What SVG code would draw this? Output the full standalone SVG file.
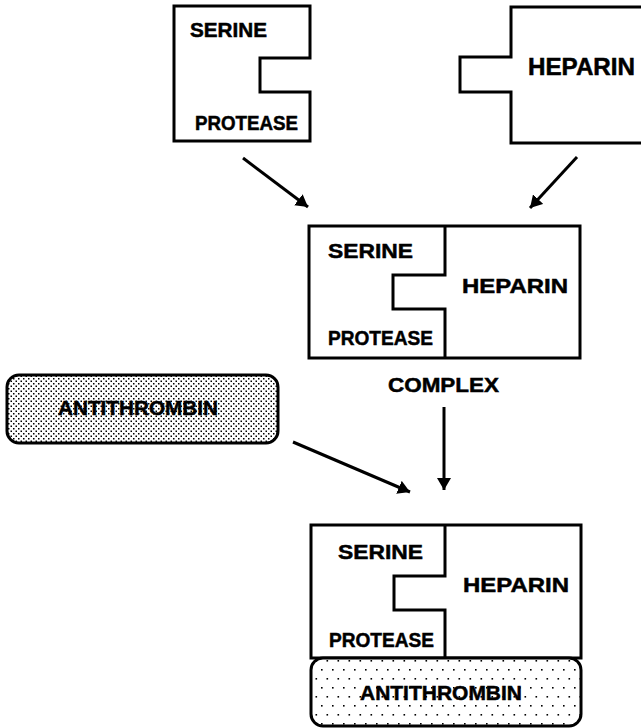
<svg xmlns="http://www.w3.org/2000/svg" width="641" height="728" viewBox="0 0 641 728">
<style>
.box{fill:#fff;stroke:#000;stroke-width:3;stroke-linejoin:miter}
.ln{fill:none;stroke:#000;stroke-width:3}
.t{font-family:"Liberation Sans",Arial,sans-serif;font-weight:bold;font-size:21px;fill:#000;stroke:#000;stroke-width:0.5}
.big{font-size:23px}
.con{stroke:#000;stroke-width:3;fill:none}
</style>
<defs>
<pattern id="dense" width="5" height="5" patternUnits="userSpaceOnUse">
<rect width="5" height="5" fill="#fff"/>
<rect x="0.5" y="0.5" width="1.5" height="1.5" fill="#000"/>
<rect x="3" y="3" width="1.5" height="1.5" fill="#000"/>
</pattern>
<pattern id="sparse" width="11" height="18" patternUnits="userSpaceOnUse">
<rect width="11" height="18" fill="#fff"/>
<rect x="2" y="3" width="1.6" height="1.6" fill="#000"/>
<rect x="7.5" y="12" width="1.6" height="1.6" fill="#000"/>
</pattern>
<marker id="ah" viewBox="0 0 12 14" refX="12" refY="7" markerWidth="12" markerHeight="14" markerUnits="userSpaceOnUse" orient="auto">
<path d="M0,0 L12,7 L0,14 Z" fill="#000"/>
</marker>
</defs>

<g id="serine-protease">
<path class="box" d="M174,6 H310 V58 H260 V92 H310 V141 H174 Z"/>
<text class="t" x="190" y="37" textLength="77" lengthAdjust="spacingAndGlyphs">SERINE</text>
<text class="t" x="195" y="130" textLength="103" lengthAdjust="spacingAndGlyphs">PROTEASE</text>
</g>

<g id="heparin">
<path class="box" d="M511,7 H645 V143 H511 V92 H460 V57 H511 Z"/>
<text class="t big" x="528" y="75" textLength="107" lengthAdjust="spacingAndGlyphs">HEPARIN</text>
</g>

<g id="complex">
<rect class="box" x="309" y="226" width="271" height="132"/>
<path class="ln" d="M445,226 V275 H393 V309 H445 V358"/>
<text class="t" x="328" y="258" textLength="85" lengthAdjust="spacingAndGlyphs">SERINE</text>
<text class="t" x="328" y="345" textLength="105" lengthAdjust="spacingAndGlyphs">PROTEASE</text>
<text class="t" x="462" y="293" textLength="106" lengthAdjust="spacingAndGlyphs">HEPARIN</text>
<text class="t" x="388" y="392" textLength="111" lengthAdjust="spacingAndGlyphs">COMPLEX</text>
</g>

<g id="antithrombin">
<rect x="7" y="375" width="271" height="68" rx="12" ry="12" fill="url(#dense)" stroke="#000" stroke-width="3"/>
<text class="t" x="58" y="415" textLength="160" lengthAdjust="spacingAndGlyphs">ANTITHROMBIN</text>
</g>

<g id="final-complex">
<rect class="box" x="311" y="525" width="270" height="133"/>
<path class="ln" d="M445,525 V576 H394 V610 H445 V658"/>
<text class="t" x="338" y="559" textLength="85" lengthAdjust="spacingAndGlyphs">SERINE</text>
<text class="t" x="329" y="647" textLength="105" lengthAdjust="spacingAndGlyphs">PROTEASE</text>
<text class="t" x="463" y="592" textLength="106" lengthAdjust="spacingAndGlyphs">HEPARIN</text>
<rect x="311" y="658" width="270" height="68" rx="12" ry="12" fill="url(#sparse)" stroke="#000" stroke-width="3"/>
<text class="t" x="360" y="700" textLength="162" lengthAdjust="spacingAndGlyphs">ANTITHROMBIN</text>
</g>

<g id="connectors">
<line class="con" x1="243" y1="158" x2="308" y2="207" marker-end="url(#ah)"/>
<line class="con" x1="577" y1="157" x2="530" y2="208" marker-end="url(#ah)"/>
<line class="con" x1="293" y1="442" x2="410" y2="492" marker-end="url(#ah)"/>
<line class="con" x1="444" y1="407" x2="444" y2="490" marker-end="url(#ah)"/>
</g>
</svg>
